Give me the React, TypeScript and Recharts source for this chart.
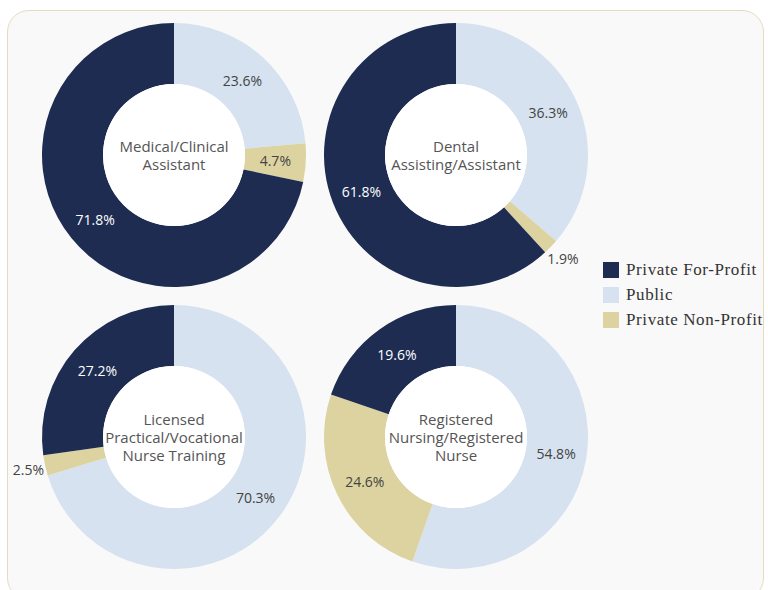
import React from "react";
import { PieChart, Pie, Cell, Label } from "recharts";

const seriesNames = ["Public", "Private Non-Profit", "Private For-Profit"];
const seriesColors = ["#d6e2f0", "#dcd3a0", "#1e2c52"];

const medicalValues = [23.6, 4.7, 71.8];
const dentalValues = [36.3, 1.9, 61.8];
const lpnValues = [70.3, 2.5, 27.2];
const rnValues = [54.8, 24.6, 19.6];

const medicalTitle = ["Medical/Clinical", "Assistant"];
const dentalTitle = ["Dental", "Assisting/Assistant"];
const lpnTitle = ["Licensed", "Practical/Vocational", "Nurse Training"];
const rnTitle = ["Registered", "Nursing/Registered", "Nurse"];

const legendOrder = ["Private For-Profit", "Public", "Private Non-Profit"];

const toRows = (values: number[]) =>
  values.map((v, i) => ({ name: seriesNames[i], value: v, color: seriesColors[i] }));

const charts = [
  { key: "med", rows: toRows(medicalValues), title: medicalTitle, cx: 174, cy: 155 },
  { key: "den", rows: toRows(dentalValues), title: dentalTitle, cx: 456, cy: 155 },
  { key: "lpn", rows: toRows(lpnValues), title: lpnTitle, cx: 174, cy: 437 },
  { key: "rn", rows: toRows(rnValues), title: rnTitle, cx: 456, cy: 437 },
];

const RAD = Math.PI / 180;
const INNER = 71;
const OUTER = 132;

const renderLabel = (props: any) => {
  const { cx, cy, midAngle, innerRadius, outerRadius, value, payload } = props;
  const small = value < 3;
  const r = small ? outerRadius + 17 : (innerRadius + outerRadius) / 2;
  const x = cx + r * Math.cos(-midAngle * RAD);
  const y = cy + r * Math.sin(-midAngle * RAD);
  const dark = payload && payload.name === "Private For-Profit";
  return (
    <text
      x={x}
      y={y}
      fill={dark && !small ? "#ffffff" : "#444444"}
      textAnchor="middle"
      dominantBaseline="central"
      fontFamily="'Open Sans', sans-serif"
      fontSize={14}
    >
      {value.toFixed(1)}%
    </text>
  );
};

const makeCenter = (lines: string[], cx: number, cy: number) => () => {
  const lh = 17.8;
  const start = cy - ((lines.length - 1) * lh) / 2;
  return (
    <g>
      <circle cx={cx} cy={cy} r={INNER} fill="#ffffff" />
      {lines.map((l, i) => (
        <text
          key={i}
          x={cx}
          y={start + i * lh}
          textAnchor="middle"
          dominantBaseline="central"
          fontFamily="'Open Sans', sans-serif"
          fontSize={15}
          fill="#555555"
        >
          {l}
        </text>
      ))}
    </g>
  );
};

export default function App() {
  return (
    <div style={{ position: "absolute", left: 0, top: 0, width: 768, height: 590, background: "#fff", overflow: "hidden" }}>
      <div
        style={{
          position: "absolute",
          left: 7,
          top: 10,
          width: 757,
          height: 590,
          boxSizing: "border-box",
          border: "1.5px solid #e4dcbc",
          borderRadius: 22,
          background: "#f9f9f9",
        }}
      />
      <div style={{ position: "absolute", left: 0, top: 0 }}>
        <PieChart width={768} height={590} margin={{ top: 0, right: 0, bottom: 0, left: 0 }}>
          {charts.map((c) => (
            <Pie
              key={c.key}
              data={c.rows}
              dataKey="value"
              nameKey="name"
              cx={c.cx}
              cy={c.cy}
              innerRadius={INNER}
              outerRadius={OUTER}
              startAngle={90}
              endAngle={-270}
              stroke="none"
              isAnimationActive={false}
              labelLine={false}
              label={renderLabel}
            >
              {c.rows.map((r, i) => (
                <Cell key={i} fill={r.color} />
              ))}
              <Label position="center" content={makeCenter(c.title, c.cx, c.cy)} />
            </Pie>
          ))}
        </PieChart>
      </div>
      <div
        style={{
          position: "absolute",
          left: 603,
          top: 257,
          fontFamily: "'Liberation Serif', 'Times New Roman', serif",
          fontSize: 17,
          letterSpacing: 0.6,
          color: "#333",
          whiteSpace: "nowrap",
        }}
      >
        {legendOrder.map((n) => (
          <div key={n} style={{ display: "flex", alignItems: "center", height: 25 }}>
            <span
              style={{
                display: "inline-block",
                width: 16,
                height: 16,
                background: seriesColors[seriesNames.indexOf(n)],
                marginRight: 7,
              }}
            />
            <span>{n}</span>
          </div>
        ))}
      </div>
    </div>
  );
}
